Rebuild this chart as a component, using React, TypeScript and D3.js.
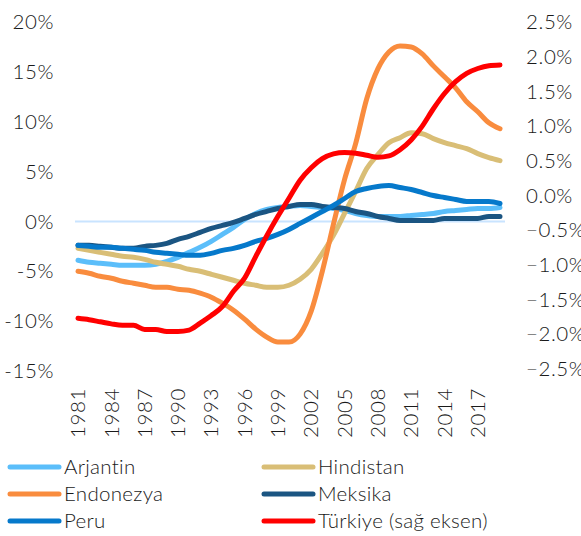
import React from "react";
import * as d3 from "d3";

const years = d3.range(1981, 2020);
const xTickYears = [1981, 1984, 1987, 1990, 1993, 1996, 1999, 2002, 2005, 2008, 2011, 2014, 2017];
const leftTicks = [20, 15, 10, 5, 0, -5, -10, -15];
const rightTicks = [2.5, 2.0, 1.5, 1.0, 0.5, 0.0, -0.5, -1.0, -1.5, -2.0, -2.5];

const arjantin = [-3.9, -4.1, -4.2, -4.3, -4.4, -4.4, -4.4, -4.3, -4.0, -3.6, -3.1, -2.6, -2.0, -1.3, -0.6, 0.2, 0.8, 1.2, 1.4, 1.5, 1.6, 1.5, 1.4, 1.3, 1.1, 0.8, 0.6, 0.5, 0.5, 0.5, 0.6, 0.7, 0.8, 1.0, 1.1, 1.2, 1.3, 1.3, 1.4];
const hindistan = [-2.7, -2.9, -3.1, -3.3, -3.5, -3.6, -3.8, -4.1, -4.3, -4.5, -4.8, -5.0, -5.3, -5.6, -5.9, -6.2, -6.4, -6.6, -6.6, -6.4, -5.8, -4.8, -3.2, -1.4, 0.8, 3.0, 5.3, 6.7, 7.9, 8.4, 8.9, 8.8, 8.3, 7.9, 7.6, 7.3, 6.8, 6.4, 6.1];
const endonezya = [-5.0, -5.2, -5.5, -5.7, -6.0, -6.2, -6.4, -6.6, -6.6, -6.8, -6.9, -7.2, -7.6, -8.2, -8.9, -9.8, -10.8, -11.6, -12.1, -12.1, -11.3, -9.0, -5.0, -0.3, 4.2, 7.8, 12.3, 15.3, 17.0, 17.6, 17.5, 16.8, 15.6, 14.5, 13.4, 12.0, 11.0, 9.9, 9.3];
const meksika = [-2.4, -2.4, -2.5, -2.6, -2.7, -2.7, -2.5, -2.4, -2.2, -1.8, -1.5, -1.1, -0.7, -0.4, -0.1, 0.3, 0.7, 1.0, 1.3, 1.5, 1.7, 1.7, 1.5, 1.4, 1.3, 1.0, 0.8, 0.5, 0.3, 0.1, 0.1, 0.1, 0.1, 0.3, 0.3, 0.3, 0.3, 0.5, 0.5];
const peru = [-2.4, -2.5, -2.6, -2.6, -2.7, -2.8, -2.9, -3.1, -3.2, -3.3, -3.4, -3.4, -3.2, -2.9, -2.7, -2.4, -2.0, -1.7, -1.3, -0.8, -0.2, 0.4, 1.0, 1.6, 2.3, 3.0, 3.3, 3.5, 3.6, 3.4, 3.2, 2.9, 2.6, 2.4, 2.2, 2.0, 2.0, 2.0, 1.8];
const turkiye = [-1.77, -1.79, -1.82, -1.85, -1.87, -1.87, -1.93, -1.93, -1.96, -1.96, -1.94, -1.84, -1.73, -1.6, -1.38, -1.19, -0.88, -0.58, -0.3, -0.04, 0.22, 0.4, 0.53, 0.6, 0.62, 0.61, 0.58, 0.55, 0.57, 0.66, 0.8, 1.0, 1.25, 1.47, 1.64, 1.76, 1.83, 1.87, 1.88];

const seriesNames = ["Arjantin", "Hindistan", "Endonezya", "Meksika", "Peru", "Türkiye (sağ eksen)"];
const seriesColors = ["#5BBEFA", "#D9BE76", "#F98C3E", "#1B5582", "#0679CB", "#FF0000"];
const seriesData = [arjantin, hindistan, endonezya, meksika, peru, turkiye];
const seriesAxis = ["left", "left", "left", "left", "left", "right"];

const FONT = "Lato, 'DejaVu Sans', sans-serif";

export default function App() {
  const W = 581, H = 536;
  const x = d3.scaleLinear().domain([1981, 2019]).range([78, 500]);
  const yL = d3.scaleLinear().domain([-15, 20]).range([371, 22]);
  const yR = d3.scaleLinear().domain([-2.5, 2.5]).range([369, 22]);
  const fs = 20.5;
  const fw = 300;

  return (
    <svg width={W} height={H} style={{ position: "absolute", left: 0, top: 0, background: "#fff" }}>
      <rect width={W} height={H} fill="#fff" />
      {leftTicks.map((t) => (
        <text key={"l" + t} x={54} y={yL(t)} dy="0.35em" textAnchor="end" fontFamily={FONT} fontSize={fs} fontWeight={fw} fill="#1a1a1a" letterSpacing={0.6}>
          {t + "%"}
        </text>
      ))}
      {rightTicks.map((t) => (
        <text key={"r" + t} x={526} y={yR(t)} dy="0.35em" textAnchor="start" fontFamily={FONT} fontSize={fs} fontWeight={fw} fill="#1a1a1a" letterSpacing={0.6}>
          {d3.format(".1f")(t) + "%"}
        </text>
      ))}
      {xTickYears.map((yr) => (
        <text key={"x" + yr} transform={`translate(${x(yr)},388) rotate(-90)`} dy="0.35em" textAnchor="end" fontFamily={FONT} fontSize={fs} fontWeight={fw} fill="#1a1a1a" letterSpacing={0.6}>
          {yr}
        </text>
      ))}
      <line x1={75} x2={505} y1={yL(0)} y2={yL(0)} stroke="#C9E4FF" strokeWidth={2} />
      {seriesData.map((data, i) => {
        const ys = seriesAxis[i] === "left" ? yL : yR;
        const line = d3.line<number>().x((_, j) => x(years[j])).y((d) => ys(d)).curve(d3.curveMonotoneX);
        return (
          <path key={seriesNames[i]} d={line(data) || ""} fill="none" stroke={seriesColors[i]} strokeWidth={5} strokeLinecap="round" strokeLinejoin="round" />
        );
      })}
      {seriesNames.map((name, i) => {
        const col = i % 2;
        const row = Math.floor(i / 2);
        const lx = col === 0 ? 10 : 264;
        const ly = 467 + row * 27;
        return (
          <g key={"lg" + name}>
            <line x1={lx} x2={lx + 49} y1={ly} y2={ly} stroke={seriesColors[i]} strokeWidth={5} strokeLinecap="round" />
            <text x={lx + 54} y={ly} dy="0.35em" fontFamily={FONT} fontSize={fs} fontWeight={fw} fill="#1a1a1a" letterSpacing={0.3}>
              {name}
            </text>
          </g>
        );
      })}
    </svg>
  );
}
